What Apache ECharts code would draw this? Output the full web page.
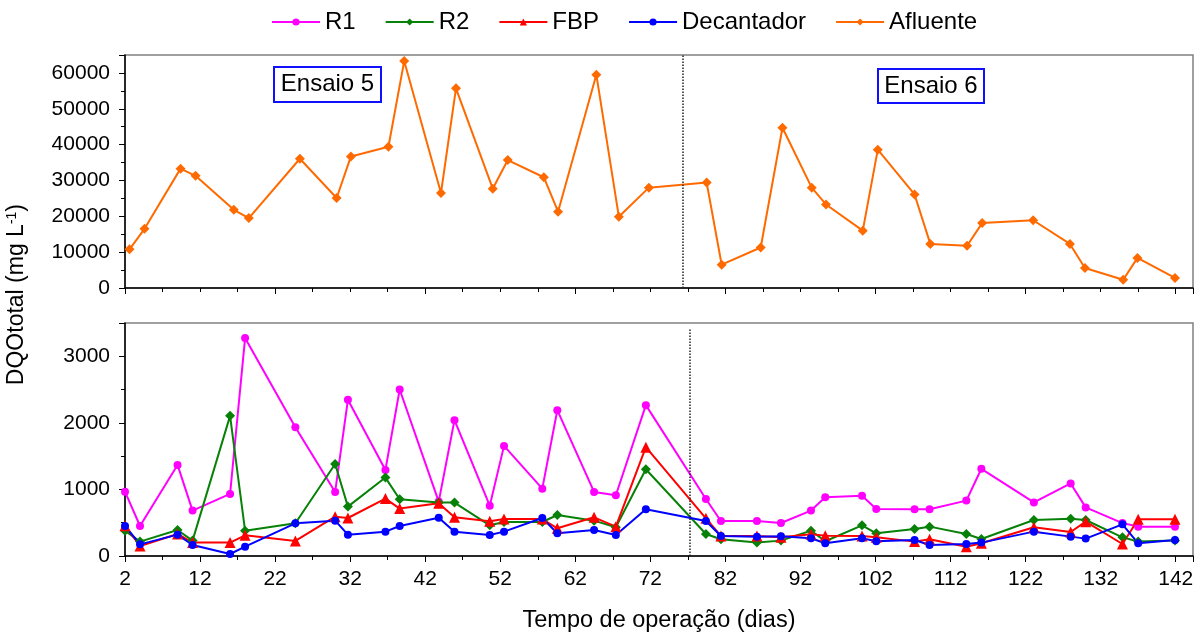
<!DOCTYPE html>
<html>
<head>
<meta charset="utf-8">
<script src="https://cdn.jsdelivr.net/npm/echarts@6/dist/echarts.min.js"></script>
<style>
html,body{margin:0;padding:0;background:#fff;}
#chart{width:1197px;height:635px;}
</style>
</head>
<body>
<div id="chart"></div>
<script>
// ---- data ----
const days = [2, 4, 9, 11, 16, 18, 24.7, 30, 31.7, 36.7, 38.6, 43.8, 45.9, 50.6, 52.5, 57.6, 59.6, 64.5, 67.4, 71.4, 79.4, 81.4, 86.2, 89.4, 93.4, 95.3, 100.2, 102.1, 107.2, 109.2, 114.1, 116.1, 123.1, 128, 130, 134.9, 137, 141.9];
const r1 = [967, 451, 1368, 682, 932, 3273, 1935, 962, 2346, 1293, 2501, 817, 2040, 756, 1654, 1012, 2190, 962, 912, 2266, 857, 526, 526, 496, 682, 882, 905, 707, 702, 702, 832, 1310, 805, 1090, 730, 495, 441, 441];
const r2 = [381, 216, 391, 231, 2105, 381, 491, 1383, 742, 1178, 852, 802, 802, 461, 511, 511, 616, 531, 431, 1303, 331, 251, 201, 231, 381, 221, 461, 341, 406, 441, 331, 256, 541, 561, 541, 281, 216, 231];
const fbp = [456, 150, 331, 201, 201, 311, 226, 591, 571, 862, 712, 792, 581, 521, 556, 556, 416, 581, 441, 1634, 566, 301, 301, 281, 326, 306, 301, 281, 216, 251, 140, 191, 431, 361, 516, 180, 551, 551];
const decantador = [451, 175, 321, 165, 30, 140, 491, 531, 321, 366, 451, 576, 366, 316, 366, 571, 341, 391, 316, 702, 526, 301, 291, 296, 266, 191, 266, 221, 241, 165, 180, 201, 366, 291, 261, 476, 191, 241];
const afluenteDays = [2.6, 4.6, 9.4, 11.4, 16.5, 18.5, 25.3, 30.2, 32.1, 37.1, 39.2, 44.1, 46.1, 51.0, 53.0, 57.8, 59.7, 64.8, 67.8, 71.8, 79.5, 81.5, 86.7, 89.6, 93.5, 95.4, 100.3, 102.3, 107.2, 109.3, 114.2, 116.2, 123.0, 127.9, 129.9, 135.0, 136.9, 141.9];
const afluente = [10800, 16500, 33300, 31300, 21800, 19500, 36050, 25100, 36700, 39400, 63300, 26500, 55700, 27700, 35700, 30900, 21300, 59500, 19900, 28000, 29400, 6500, 11300, 44700, 28000, 23300, 16000, 38600, 26100, 12300, 11800, 18100, 18900, 12300, 5600, 2300, 8400, 2800];
const seriesNames = ['R1', 'R2', 'FBP', 'Decantador', 'Afluente'];
const xTicksLabels = [2, 12, 22, 32, 42, 52, 62, 72, 82, 92, 102, 112, 122, 132, 142];
const divisionTop = 76.3;      // vertical dotted line (top panel)
const divisionBottom = 77.3;   // vertical dotted line (bottom panel)
const ensaioLabels = ['Ensaio 5', 'Ensaio 6'];

// ---- chart ----
const FONT = 'Liberation Sans, Arial, sans-serif';
const chart = echarts.init(document.getElementById('chart'));
const zip = (xs, ys) => xs.map((x, i) => [x, ys[i]]);

const colors = {R1: '#ff00ff', R2: '#078107', FBP: '#ff0000', Decantador: '#0000ff', Afluente: '#ff6a00'};

function lineSeries(name, x, y, symbol, size, xIdx, yIdx) {
  return {
    name: name, type: 'line', xAxisIndex: xIdx, yAxisIndex: yIdx,
    data: zip(x, y), symbol: symbol, symbolSize: size, showAllSymbol: true,
    itemStyle: {color: colors[name]},
    lineStyle: {color: colors[name], width: 2},
    emphasis: {disabled: true}, animation: false, z: 3
  };
}

const xCommon = {
  type: 'value', min: 2, max: 144.3,
  axisLine: {show: true, lineStyle: {color: '#000', width: 1.5}},
  splitLine: {show: false}
};

const option = {
  animation: false,
  textStyle: {fontFamily: FONT},
  legend: {
    data: seriesNames,
    left: 266, top: 5,
    itemWidth: 48, itemHeight: 9, itemGap: 29,
    textStyle: {fontSize: 24, color: '#000', fontFamily: FONT}
  },
  grid: [
    {left: 125, right: 4, top: 55, height: 233, show: true, borderColor: '#808080', borderWidth: 1.5},
    {left: 125, right: 4, top: 323, height: 233, show: true, borderColor: '#808080', borderWidth: 1.5}
  ],
  xAxis: [
    Object.assign({}, xCommon, {
      gridIndex: 0, interval: 20,
      axisTick: {show: true, length: 6, lineStyle: {color: '#000'}},
      minorTick: {show: true, splitNumber: 4, length: 4, lineStyle: {color: '#000'}},
      axisLabel: {show: false}
    }),
    Object.assign({}, xCommon, {
      gridIndex: 1, interval: 10,
      axisTick: {show: true, length: 6, lineStyle: {color: '#000'}},
      minorTick: {show: true, splitNumber: 2, length: 4, lineStyle: {color: '#000'}},
      axisLabel: {
        fontSize: 21, color: '#000', margin: 13, fontFamily: FONT,
        formatter: v => (xTicksLabels.indexOf(Math.round(v * 1000) / 1000) >= 0 ? String(v) : '')
      },
      name: 'Tempo de operação (dias)', nameLocation: 'middle', nameGap: 53,
      nameTextStyle: {fontSize: 23.5, color: '#000', fontFamily: FONT}
    })
  ],
  yAxis: [
    {
      type: 'value', gridIndex: 0, min: 0, max: 65000, interval: 10000,
      axisLine: {show: true, lineStyle: {color: '#000', width: 1.5}},
      axisTick: {show: true, length: 6, lineStyle: {color: '#000'}},
      minorTick: {show: true, splitNumber: 2, length: 4, lineStyle: {color: '#000'}},
      splitLine: {show: false},
      axisLabel: {fontSize: 21, color: '#000', margin: 15, fontFamily: FONT,
        formatter: v => (v % 10000 === 0 ? String(v) : '')}
    },
    {
      type: 'value', gridIndex: 1, min: 0, max: 3500, interval: 1000,
      axisLine: {show: true, lineStyle: {color: '#000', width: 1.5}},
      axisTick: {show: true, length: 6, lineStyle: {color: '#000'}},
      minorTick: {show: true, splitNumber: 2, length: 4, lineStyle: {color: '#000'}},
      splitLine: {show: false},
      axisLabel: {fontSize: 21, color: '#000', margin: 15, fontFamily: FONT,
        formatter: v => (v % 1000 === 0 ? String(v) : '')}
    }
  ],
  series: [
    lineSeries('R1', days, r1, 'circle', 8, 1, 1),
    lineSeries('R2', days, r2, 'diamond', 10, 1, 1),
    lineSeries('FBP', days, fbp, 'triangle', 11, 1, 1),
    Object.assign(lineSeries('Decantador', days, decantador, 'circle', 8, 1, 1), {
      markLine: {
        silent: true, symbol: 'none', label: {show: false},
        lineStyle: {color: '#222', type: 'dotted', width: 1.5},
        data: [[{coord: [divisionBottom, 0]}, {coord: [divisionBottom, 3410]}]]
      }
    }),
    Object.assign(lineSeries('Afluente', afluenteDays, afluente, 'diamond', 10, 0, 0), {
      markLine: {
        silent: true, symbol: 'none', label: {show: false},
        lineStyle: {color: '#222', type: 'dotted', width: 1.5},
        data: [{xAxis: divisionTop}]
      }
    })
  ],
  graphic: [
    {
      type: 'text', left: 5, top: 204, rotation: Math.PI / 2,
      style: {
        text: '{a|DQOtotal (mg L}{s|-1}{a|)}',
        rich: {
          a: {fontSize: 23, fontFamily: FONT, fill: '#000', color: '#000'},
          s: {fontSize: 14, fontFamily: FONT, fill: '#000', color: '#000', verticalAlign: 'top', padding: [0, 0, 9, 0]}
        }
      }
    },
    {
      type: 'group', left: 273, top: 66,
      children: [
        {type: 'rect', shape: {x: 0, y: 0, width: 107, height: 35}, style: {fill: '#fff', stroke: '#1010ff', lineWidth: 2}},
        {type: 'text', x: 53.5, y: 17.5, style: {text: ensaioLabels[0], fontSize: 24, fontFamily: FONT, fill: '#000', align: 'center', verticalAlign: 'middle'}}
      ]
    },
    {
      type: 'group', left: 877, top: 68,
      children: [
        {type: 'rect', shape: {x: 0, y: 0, width: 106, height: 34}, style: {fill: '#fff', stroke: '#1010ff', lineWidth: 2}},
        {type: 'text', x: 53, y: 17, style: {text: ensaioLabels[1], fontSize: 24, fontFamily: FONT, fill: '#000', align: 'center', verticalAlign: 'middle'}}
      ]
    }
  ]
};
chart.setOption(option);
</script>
</body>
</html>
